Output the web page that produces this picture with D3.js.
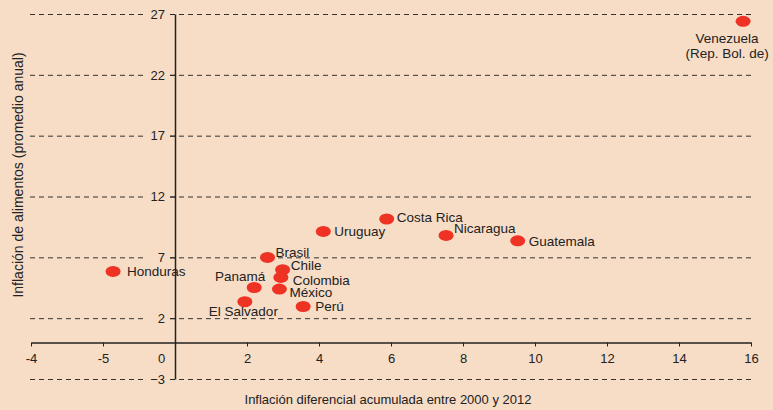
<!DOCTYPE html>
<html>
<head>
<meta charset="utf-8">
<script src="https://cdn.jsdelivr.net/npm/d3@7"></script>
<style>
  body { margin: 0; background: #F7DCC6; }
  svg { display: block; font-family: "Liberation Sans", Arial, sans-serif; }
</style>
</head>
<body>
<svg></svg>
<script>
var width = 773, height = 410;

// data
var countries = ["Venezuela (Rep. Bol. de)", "Honduras", "Brasil", "Chile", "Colombia", "Panamá",
  "México", "El Salvador", "Perú", "Uruguay", "Costa Rica", "Nicaragua", "Guatemala"];
var diffInflation = [15.78, -1.72, 2.57, 2.99, 2.94, 2.2, 2.9, 1.94, 3.56, 4.12, 5.88, 7.53, 9.52];
var foodInflation = [26.4, 5.84, 6.99, 5.98, 5.35, 4.52, 4.39, 3.35, 2.96, 9.13, 10.15, 8.8, 8.36];

var xTicks = [-4, -2, 0, 2, 4, 6, 8, 10, 12, 14, 16];
var xTickLabels = ["-4", "-5", "0", "2", "4", "6", "8", "10", "12", "14", "16"];
var yTicks = [-3, 2, 7, 12, 17, 22, 27];

// label placement relative to each point (dx, dy, anchor)
var labelPos = {
  "Venezuela (Rep. Bol. de)": [-16, 17, "middle"],
  "Honduras": [14, 0, "start"],
  "Brasil": [8, -5, "start"],
  "Chile": [8, -4, "start"],
  "Colombia": [12, 3, "start"],
  "Panamá": [11, -11, "end"],
  "México": [10, 3, "start"],
  "El Salvador": [-36, 10, "start"],
  "Perú": [12, 0, "start"],
  "Uruguay": [11, 0, "start"],
  "Costa Rica": [10, -2, "start"],
  "Nicaragua": [8, -7, "start"],
  "Guatemala": [11, 0, "start"]
};

var svg = d3.select('svg')
  .attr('width', width)
  .attr('height', height);

var x = d3.scaleLinear().domain([-4, 16]).range([31, 751]);
var y = d3.scaleLinear().domain([-3, 27]).range([379, 14]);

// dashed gridlines
var grid = svg.append('g').attr('stroke', '#333').attr('stroke-dasharray', '5,4').attr('stroke-width', 1);
grid.selectAll('line.l')
  .data(yTicks)
  .enter().append('line')
  .attr('x1', 30).attr('x2', 146)
  .attr('y1', function (d) { return y(d) + 0.5; })
  .attr('y2', function (d) { return y(d) + 0.5; });
grid.selectAll('line.r')
  .data(yTicks)
  .enter().append('line')
  .attr('x1', 170).attr('x2', 752)
  .attr('y1', function (d) { return y(d) + 0.5; })
  .attr('y2', function (d) { return y(d) + 0.5; });

// y axis
var yAxis = svg.append('g')
  .attr('transform', 'translate(' + x(0) + ',0)')
  .call(d3.axisLeft(y).tickValues(yTicks).tickSize(5).tickSizeOuter(0).tickPadding(5));

// x axis
var xAxis = svg.append('g')
  .attr('transform', 'translate(0,' + y(0) + ')')
  .call(d3.axisBottom(x).tickValues(xTicks).tickSize(4).tickSizeOuter(0).tickPadding(7)
    .tickFormat(function (d, i) { return xTickLabels[i]; }));

[yAxis, xAxis].forEach(function (a) {
  a.select('.domain').attr('stroke', '#222').attr('stroke-width', 1.5);
  a.selectAll('.tick line').attr('stroke', '#222');
  a.selectAll('text').attr('font-size', 13).attr('fill', '#222').style('font-family', '"Liberation Sans", Arial, sans-serif');
});
xAxis.selectAll('.tick text').filter(function (d) { return d === 0; }).attr('dx', -14);

// points
svg.append('g')
  .selectAll('ellipse')
  .data(countries)
  .enter().append('ellipse')
  .attr('cx', function (d, i) { return x(diffInflation[i]); })
  .attr('cy', function (d, i) { return y(foodInflation[i]); })
  .attr('rx', 7.5)
  .attr('ry', 5.5)
  .attr('fill', '#EE3224');

// labels
svg.append('g')
  .selectAll('text')
  .data(countries)
  .enter().append('text')
  .attr('font-size', 13.5)
  .attr('fill', '#222')
  .attr('text-anchor', function (d) { return labelPos[d][2]; })
  .attr('transform', function (d, i) {
    return 'translate(' + (x(diffInflation[i]) + labelPos[d][0]) + ',' + (y(foodInflation[i]) + labelPos[d][1]) + ')';
  })
  .each(function (d) {
    var parts = d === "Venezuela (Rep. Bol. de)" ? ["Venezuela", "(Rep. Bol. de)"] : [d];
    d3.select(this).selectAll('tspan')
      .data(parts)
      .enter().append('tspan')
      .attr('x', 0)
      .attr('dy', function (p, j) { return j === 0 ? '0.35em' : '1.12em'; })
      .text(function (p) { return p; });
  });

// axis titles
svg.append('text')
  .attr('font-size', 13)
  .attr('fill', '#222')
  .attr('text-anchor', 'middle')
  .attr('x', 388).attr('y', 404)
  .text('Inflación diferencial acumulada entre 2000 y 2012');

svg.append('text')
  .attr('font-size', 14)
  .attr('fill', '#222')
  .attr('text-anchor', 'middle')
  .attr('transform', 'translate(23,175) rotate(-90)')
  .text('Inflación de alimentos (promedio anual)');
</script>
</body>
</html>
